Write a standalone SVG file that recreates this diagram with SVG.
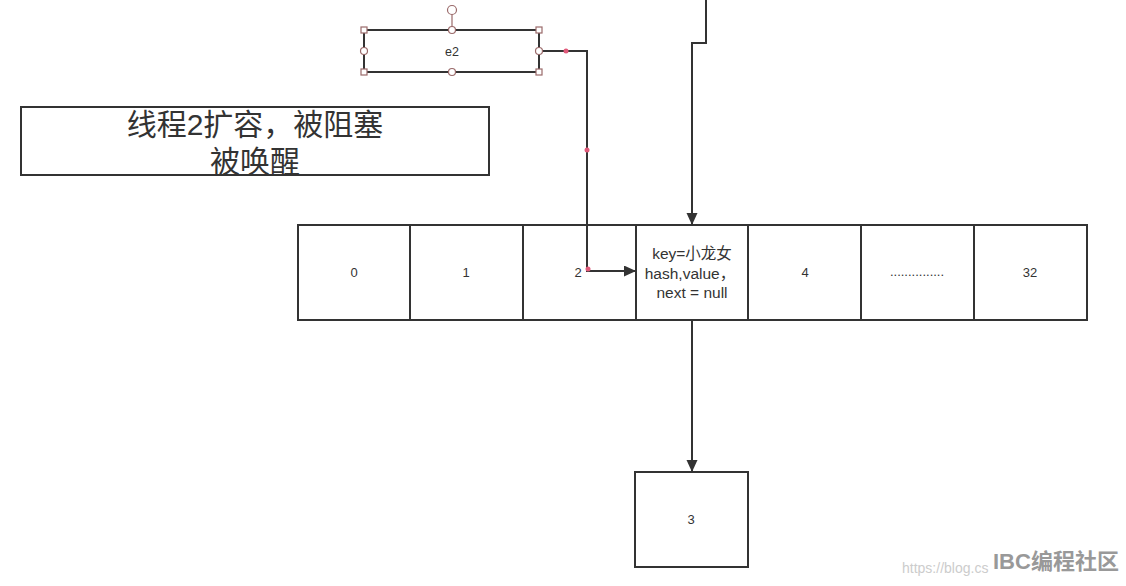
<svg xmlns="http://www.w3.org/2000/svg" width="1126" height="586" viewBox="0 0 1126 586">
<defs>
<marker id="ah" markerWidth="12" markerHeight="12" refX="11" refY="5.5" orient="auto" markerUnits="userSpaceOnUse">
<path d="M0,0 L12,5.5 L0,11 Z" fill="#333"/>
</marker>
<style>
.box{fill:#fff;stroke:#333;stroke-width:2}
.t{font-family:"Liberation Sans","Noto Sans CJK SC",sans-serif;fill:#333;text-anchor:middle}
.c{fill:none;stroke:#333;stroke-width:2}
.h{fill:#fff;stroke:#9a6a6a;stroke-width:1.2}
.pd{fill:#e05a7a}
</style>
</defs>
<rect width="1126" height="586" fill="#fff"/>
<g id="thread">
<rect class="box" x="21" y="107" width="468" height="68"/>
<text class="t" x="255" y="135" font-size="30">线程2扩容，被阻塞</text>
<text class="t" x="255" y="172" font-size="30">被唤醒</text>
</g>
<g id="cell0"><rect class="box" x="298" y="225" width="112" height="95"/><text class="t" x="354" y="277" font-size="13">0</text></g>
<g id="cell1"><rect class="box" x="410" y="225" width="113" height="95"/><text class="t" x="466" y="277" font-size="13">1</text></g>
<g id="cell2"><rect class="box" x="523" y="225" width="113" height="95"/><text class="t" x="578" y="277" font-size="13">2</text></g>
<g id="cell3"><rect class="box" x="636" y="225" width="112" height="95"/>
<text class="t" x="692" y="259" font-size="15.5">key=小龙女</text>
<text class="t" x="690" y="279" font-size="15.5">hash,value，</text>
<text class="t" x="692" y="298" font-size="15.5">next = null</text></g>
<g id="cell4"><rect class="box" x="748" y="225" width="113" height="95"/><text class="t" x="805" y="277" font-size="13">4</text></g>
<g id="cell5"><rect class="box" x="861" y="225" width="113" height="95"/><text class="t" x="917" y="276" font-size="13">...............</text></g>
<g id="cell6"><rect class="box" x="974" y="225" width="113" height="95"/><text class="t" x="1030" y="277" font-size="13">32</text></g>
<g id="node3"><rect class="box" x="635" y="472" width="113" height="95"/><text class="t" x="691" y="524" font-size="13">3</text></g>
<g id="e2">
<rect class="box" x="364" y="30" width="175" height="42"/>
<text class="t" x="452" y="56" font-size="12.5">e2</text>
<line x1="452" y1="14" x2="452" y2="30" stroke="#9a6a6a" stroke-width="1.2"/>
<circle class="h" cx="452" cy="10" r="4.5"/>
<rect class="h" x="361" y="27" width="6" height="6"/>
<rect class="h" x="536" y="27" width="6" height="6"/>
<rect class="h" x="361" y="69" width="6" height="6"/>
<rect class="h" x="536" y="69" width="6" height="6"/>
<circle class="h" cx="452" cy="30" r="3.5"/>
<circle class="h" cx="452" cy="72" r="3.5"/>
<circle class="h" cx="364" cy="51" r="3.5"/>
</g>
<g id="connectors">
<path class="c" d="M706,0 V43 H692 V224" marker-end="url(#ah)"/>
<path class="c" d="M539,51 H587 V271 H635" marker-end="url(#ah)"/>
<path class="c" d="M692,320 V471" marker-end="url(#ah)"/>
<circle class="h" cx="539" cy="51" r="3.5"/>
<circle class="pd" cx="566" cy="51" r="2.5"/>
<circle class="pd" cx="587" cy="150" r="2.5"/>
<circle class="pd" cx="588" cy="269" r="2.5"/>
</g>
<g id="watermark">
<text x="902" y="573" font-family="Liberation Sans,sans-serif" font-size="14" fill="#ccc">https://blog.cs</text>
<text x="993" y="569" font-family="Liberation Sans,'Noto Sans CJK SC',sans-serif" font-size="22" font-weight="bold" fill="#999">IBC编程社区</text>
</g>
</svg>
